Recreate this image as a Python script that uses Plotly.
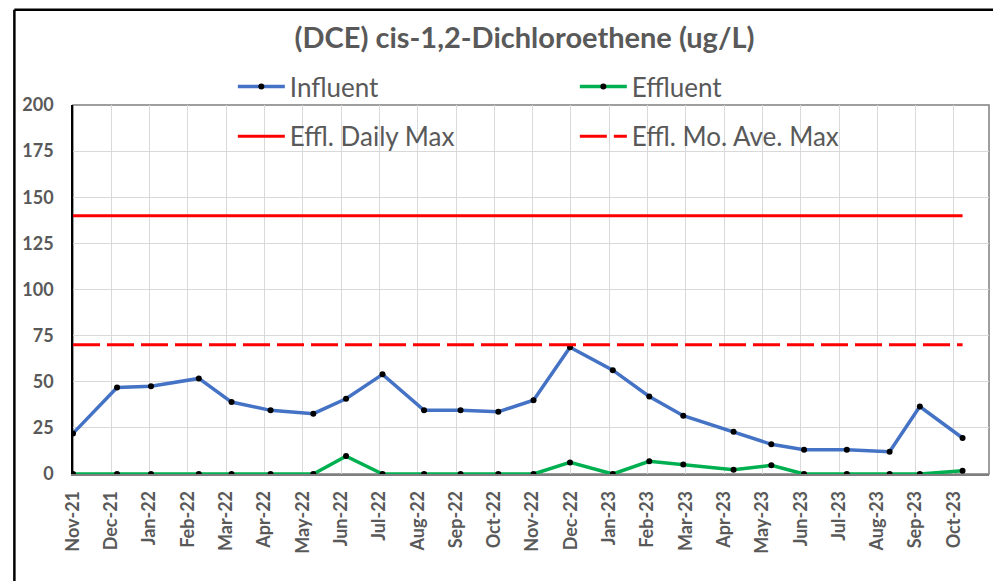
import plotly.graph_objects as go
import pandas as pd

sample_dates = ["2021-11-01", "2021-12-06", "2022-01-02", "2022-02-09", "2022-03-07", "2022-04-07",
                "2022-05-11", "2022-06-06", "2022-07-05", "2022-08-07", "2022-09-05", "2022-10-05",
                "2022-11-02", "2022-12-01", "2023-01-04", "2023-02-02", "2023-03-01", "2023-04-10",
                "2023-05-10", "2023-06-05", "2023-07-09", "2023-08-12", "2023-09-05", "2023-10-09"]
influent = [22.0, 46.9, 47.6, 51.8, 39.0, 34.5, 32.7, 40.8, 54.0, 34.5, 34.5, 33.7,
            40.0, 68.7, 56.3, 42.0, 31.6, 22.9, 16.1, 13.2, 13.2, 12.1, 36.6, 19.5]
effluent = [0, 0, 0, 0, 0, 0, 0, 9.7, 0, 0, 0, 0,
            0, 6.3, 0, 6.9, 5.2, 2.3, 4.7, 0, 0, 0, 0, 1.8]
daily_max = [140] * len(sample_dates)
mo_ave_max = [70] * len(sample_dates)

tick_labels = ["Nov-21", "Dec-21", "Jan-22", "Feb-22", "Mar-22", "Apr-22", "May-22", "Jun-22",
               "Jul-22", "Aug-22", "Sep-22", "Oct-22", "Nov-22", "Dec-22", "Jan-23", "Feb-23",
               "Mar-23", "Apr-23", "May-23", "Jun-23", "Jul-23", "Aug-23", "Sep-23", "Oct-23"]
y_ticks = [0, 25, 50, 75, 100, 125, 150, 175, 200]

axis_start = pd.Timestamp("2021-11-01")
axis_end = pd.Timestamp("2023-10-30")
major_unit = pd.Timedelta(days=30.44)
tick_vals = [axis_start + major_unit * k for k in range(len(tick_labels))]

FONT = "Lato"
GRAY = "#595959"

fig = go.Figure()
fig.add_trace(go.Scatter(x=sample_dates, y=influent, name="Influent", mode="lines+markers",
                         line=dict(color="#4472C4", width=3.5),
                         marker=dict(color="black", size=6), legend="legend"))
fig.add_trace(go.Scatter(x=sample_dates, y=effluent, name="Effluent", mode="lines+markers",
                         line=dict(color="#00B050", width=3.5),
                         marker=dict(color="black", size=6), legend="legend"))
fig.add_trace(go.Scatter(x=sample_dates, y=daily_max, name="Effl. Daily Max", mode="lines",
                         line=dict(color="#FF0000", width=3), legend="legend2"))
fig.add_trace(go.Scatter(x=sample_dates, y=mo_ave_max, name="Effl. Mo. Ave. Max", mode="lines",
                         line=dict(color="#FF0000", width=3, dash="27px,7px"), legend="legend2"))

legend_common = dict(orientation="h", xanchor="left", yanchor="middle",
                     entrywidth=280, entrywidthmode="pixels", itemwidth=47,
                     font=dict(family=FONT, size=26, color=GRAY),
                     bgcolor="rgba(0,0,0,0)", itemclick=False)

fig.update_layout(
    width=1001, height=581,
    margin=dict(l=65, r=20, t=97, b=114.5, autoexpand=False),
    paper_bgcolor="white", plot_bgcolor="white",
    title=dict(text="<b>(DCE) cis-1,2-Dichloroethene (ug/L)</b>", x=0.516, xanchor="center",
               y=1 - 30 / 581, yanchor="middle", xref="container", yref="container",
               font=dict(family=FONT, size=29, color=GRAY)),
    legend=dict(x=0.1745, y=1.05, **legend_common),
    legend2=dict(x=0.1745, y=0.915, **legend_common),
    showlegend=True,
)

fig.update_xaxes(type="date", range=[axis_start, axis_end],
                 tickmode="array", tickvals=tick_vals, ticktext=tick_labels,
                 tickangle=-90, tickfont=dict(family=FONT, size=18, color=GRAY, weight="bold"),
                 showgrid=True, gridcolor="#D9D9D9", gridwidth=1,
                 showline=True, linecolor="#7F7F7F", linewidth=1.5,
                 ticks="outside", ticklen=0, ticklabelstandoff=8, zeroline=False)
fig.update_yaxes(range=[0, 200], tickmode="array", tickvals=y_ticks,
                 tickfont=dict(family=FONT, size=18, color=GRAY, weight="bold"),
                 showgrid=True, gridcolor="#D9D9D9", gridwidth=1,
                 showline=True, linecolor="black", linewidth=1.5,
                 ticks="outside", ticklen=0, ticklabelstandoff=14, zeroline=False)

# plot-area border (top/right) and outer frame
fig.add_shape(type="rect", xref="paper", yref="paper", x0=0, y0=0, x1=1, y1=1,
              line=dict(color="#7F7F7F", width=1.5), layer="below")
fig.add_shape(type="line", xref="paper", yref="paper", x0=-0.064, x1=1.03, y0=1.258, y1=1.258,
              line=dict(color="black", width=2.5))
fig.add_shape(type="line", xref="paper", yref="paper", x0=-0.064, x1=-0.064, y0=1.258, y1=-0.32,
              line=dict(color="black", width=2.5))

fig.write_html("out.html")
